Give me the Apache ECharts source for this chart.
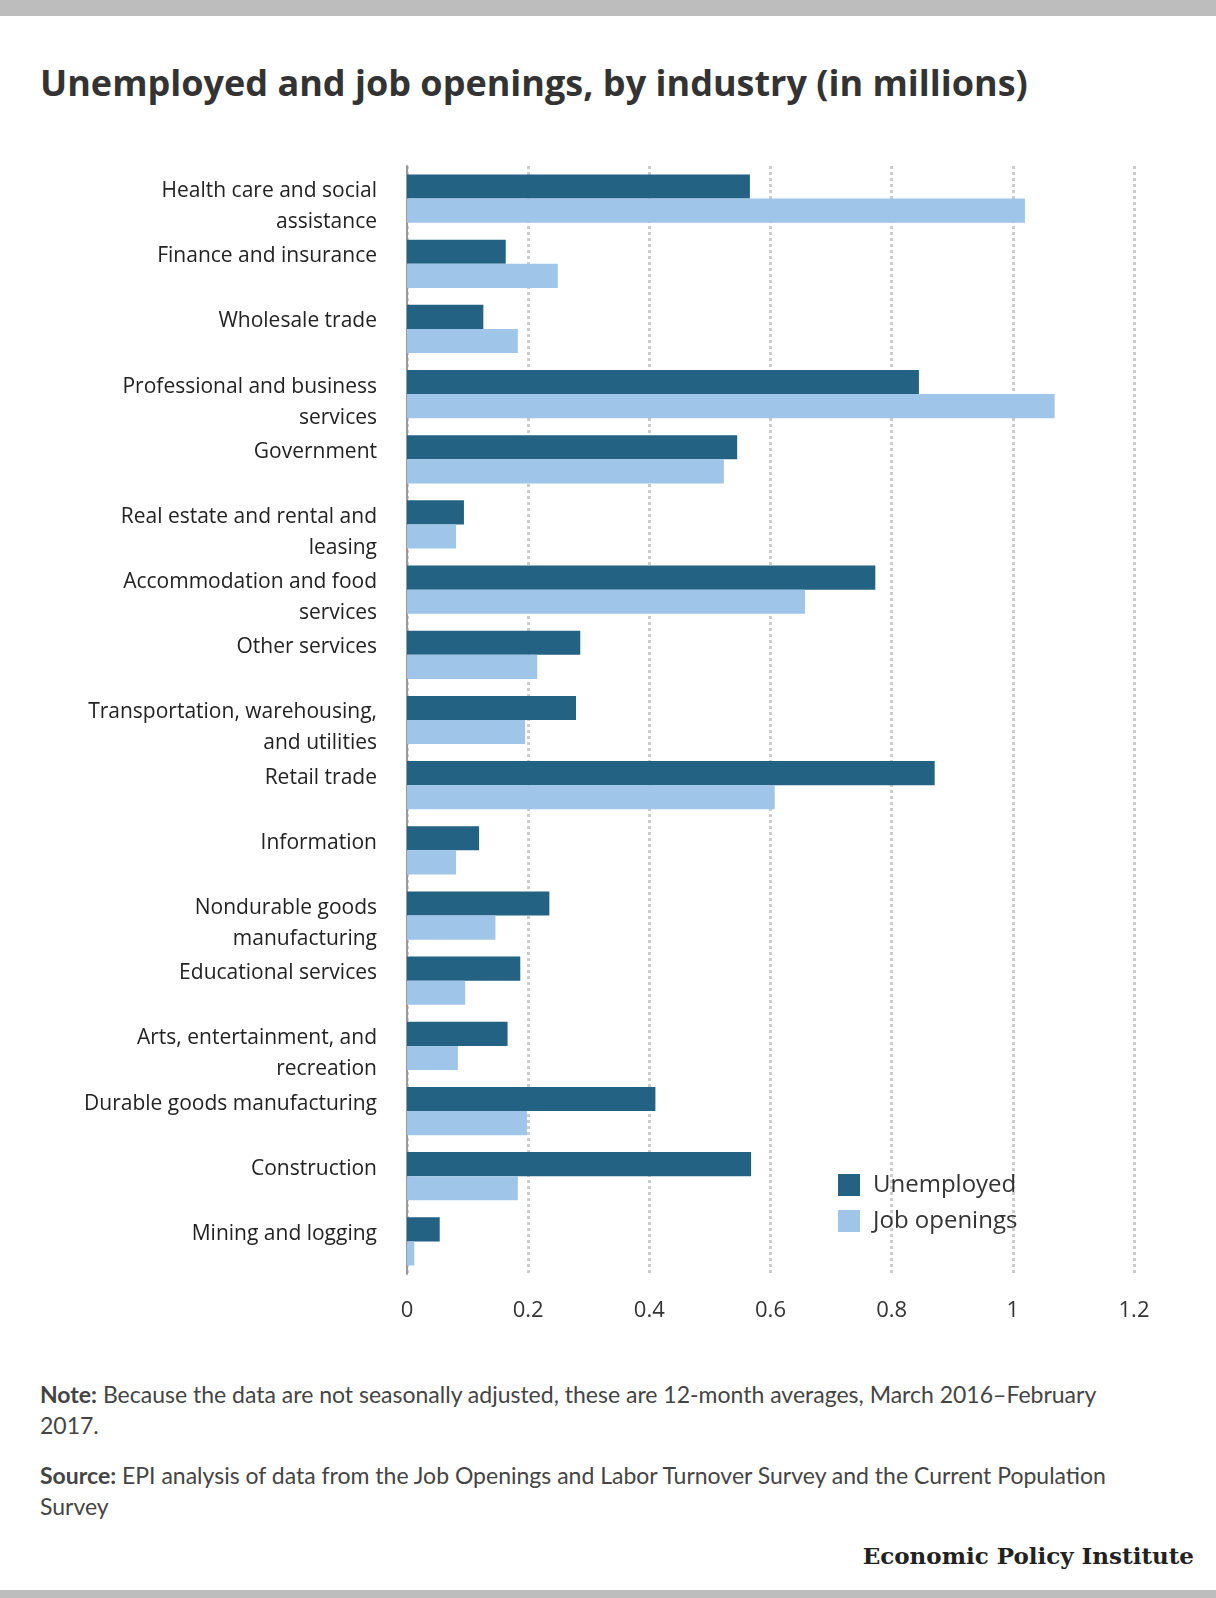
<!DOCTYPE html>
<html><head><meta charset="utf-8">
<script src="https://cdn.jsdelivr.net/npm/echarts@6/dist/echarts.min.js"></script>
<style>
body{margin:0;background:#fff;}
#wrap{position:relative;width:1216px;height:1598px;font-family:Lato,"Open Sans",sans-serif;color:#333;}
.bar{position:absolute;left:0;width:1216px;height:16px;background:#bdbdbd;}
#title{position:absolute;left:40px;top:58px;font-family:"Open Sans";font-size:36px;font-weight:bold;color:#333;}
.note{position:absolute;left:40px;width:1080px;font-size:23px;line-height:31px;color:#444;}
#epi{position:absolute;right:22px;top:1542px;font-family:"DejaVu Serif","Liberation Serif",serif;font-weight:bold;font-size:23px;color:#222;}
#chart{position:absolute;left:0;top:120px;width:1216px;height:1230px;}
</style></head>
<body><div id="wrap">
<div class="bar" style="top:0"></div>
<div id="title">Unemployed and job openings, by industry (in millions)</div>
<div id="chart"></div>
<div class="note" style="top:1379px"><b>Note:</b> Because the data are not seasonally adjusted, these are 12-month averages, March 2016–February 2017.</div>
<div class="note" style="top:1460px"><b>Source:</b> EPI analysis of data from the Job Openings and Labor Turnover Survey and the Current Population Survey</div>
<div id="epi">Economic Policy Institute</div>
<div class="bar" style="top:1590px;height:8px"></div>
</div>
<script>
const categories = ['Health care and social\nassistance','Finance and insurance','Wholesale trade','Professional and business\nservices','Government','Real estate and rental and\nleasing','Accommodation and food\nservices','Other services','Transportation, warehousing,\nand utilities','Retail trade','Information','Nondurable goods\nmanufacturing','Educational services','Arts, entertainment, and\nrecreation','Durable goods manufacturing','Construction','Mining and logging']
const unemployed = [0.566,0.163,0.126,0.845,0.545,0.094,0.773,0.286,0.279,0.871,0.119,0.235,0.187,0.166,0.41,0.568,0.054]
const openings = [1.02,0.249,0.183,1.069,0.523,0.081,0.657,0.215,0.195,0.607,0.081,0.146,0.096,0.084,0.198,0.183,0.012]

const myChart = echarts.init(document.getElementById('chart'))
const option = {
  animation: false,
  textStyle: {fontFamily: 'Lato'},
  grid: {left: 407, right: 82, top: 46, bottom: 76},
  legend: {
    orient: 'vertical', left: 833, top: 1048, icon: 'rect',
    itemWidth: 22, itemHeight: 22, itemGap: 12,
    textStyle: {fontSize: 24, color: '#333', fontFamily: 'Open Sans', padding: [0, 0, 0, 8]},
    data: ['Unemployed', 'Job openings']
  },
  xAxis: {
    type: 'value', min: 0, max: 1.2, interval: 0.2,
    axisLine: {show: false}, axisTick: {show: false},
    axisLabel: {fontSize: 22, color: '#333', margin: 26, fontFamily: 'Open Sans', formatter: v => String(+v.toFixed(1))},
    splitLine: {lineStyle: {type: 'dotted', color: '#ccc', width: 3}}
  },
  yAxis: {
    type: 'category', inverse: true, data: categories,
    axisLine: {lineStyle: {color: '#999', width: 2}}, axisTick: {show: false},
    axisLabel: {
      interval: 0, showMinLabel: true, showMaxLabel: true, hideOverlap: false,
      margin: 30, align: 'right',
      formatter: v => {
        const lines = v.split('\n')
        if (lines.length < 2) lines.push('\u00a0')
        return '{g|}\n' + lines.map(l => '{t|' + l + '}').join('\n')
      },
      rich: {
        g: {fontSize: 1, lineHeight: 16},
        t: {fontSize: 21, lineHeight: 31, color: '#222', fontFamily: 'Open Sans', align: 'right'}
      }
    }
  },
  series: [
    {name: 'Unemployed', type: 'bar', data: unemployed, barGap: 0, barCategoryGap: '26%', itemStyle: {color: '#246283'}},
    {name: 'Job openings', type: 'bar', data: openings, itemStyle: {color: '#9fc6e8'}}
  ]
}
myChart.setOption(option)
</script>
</body></html>
